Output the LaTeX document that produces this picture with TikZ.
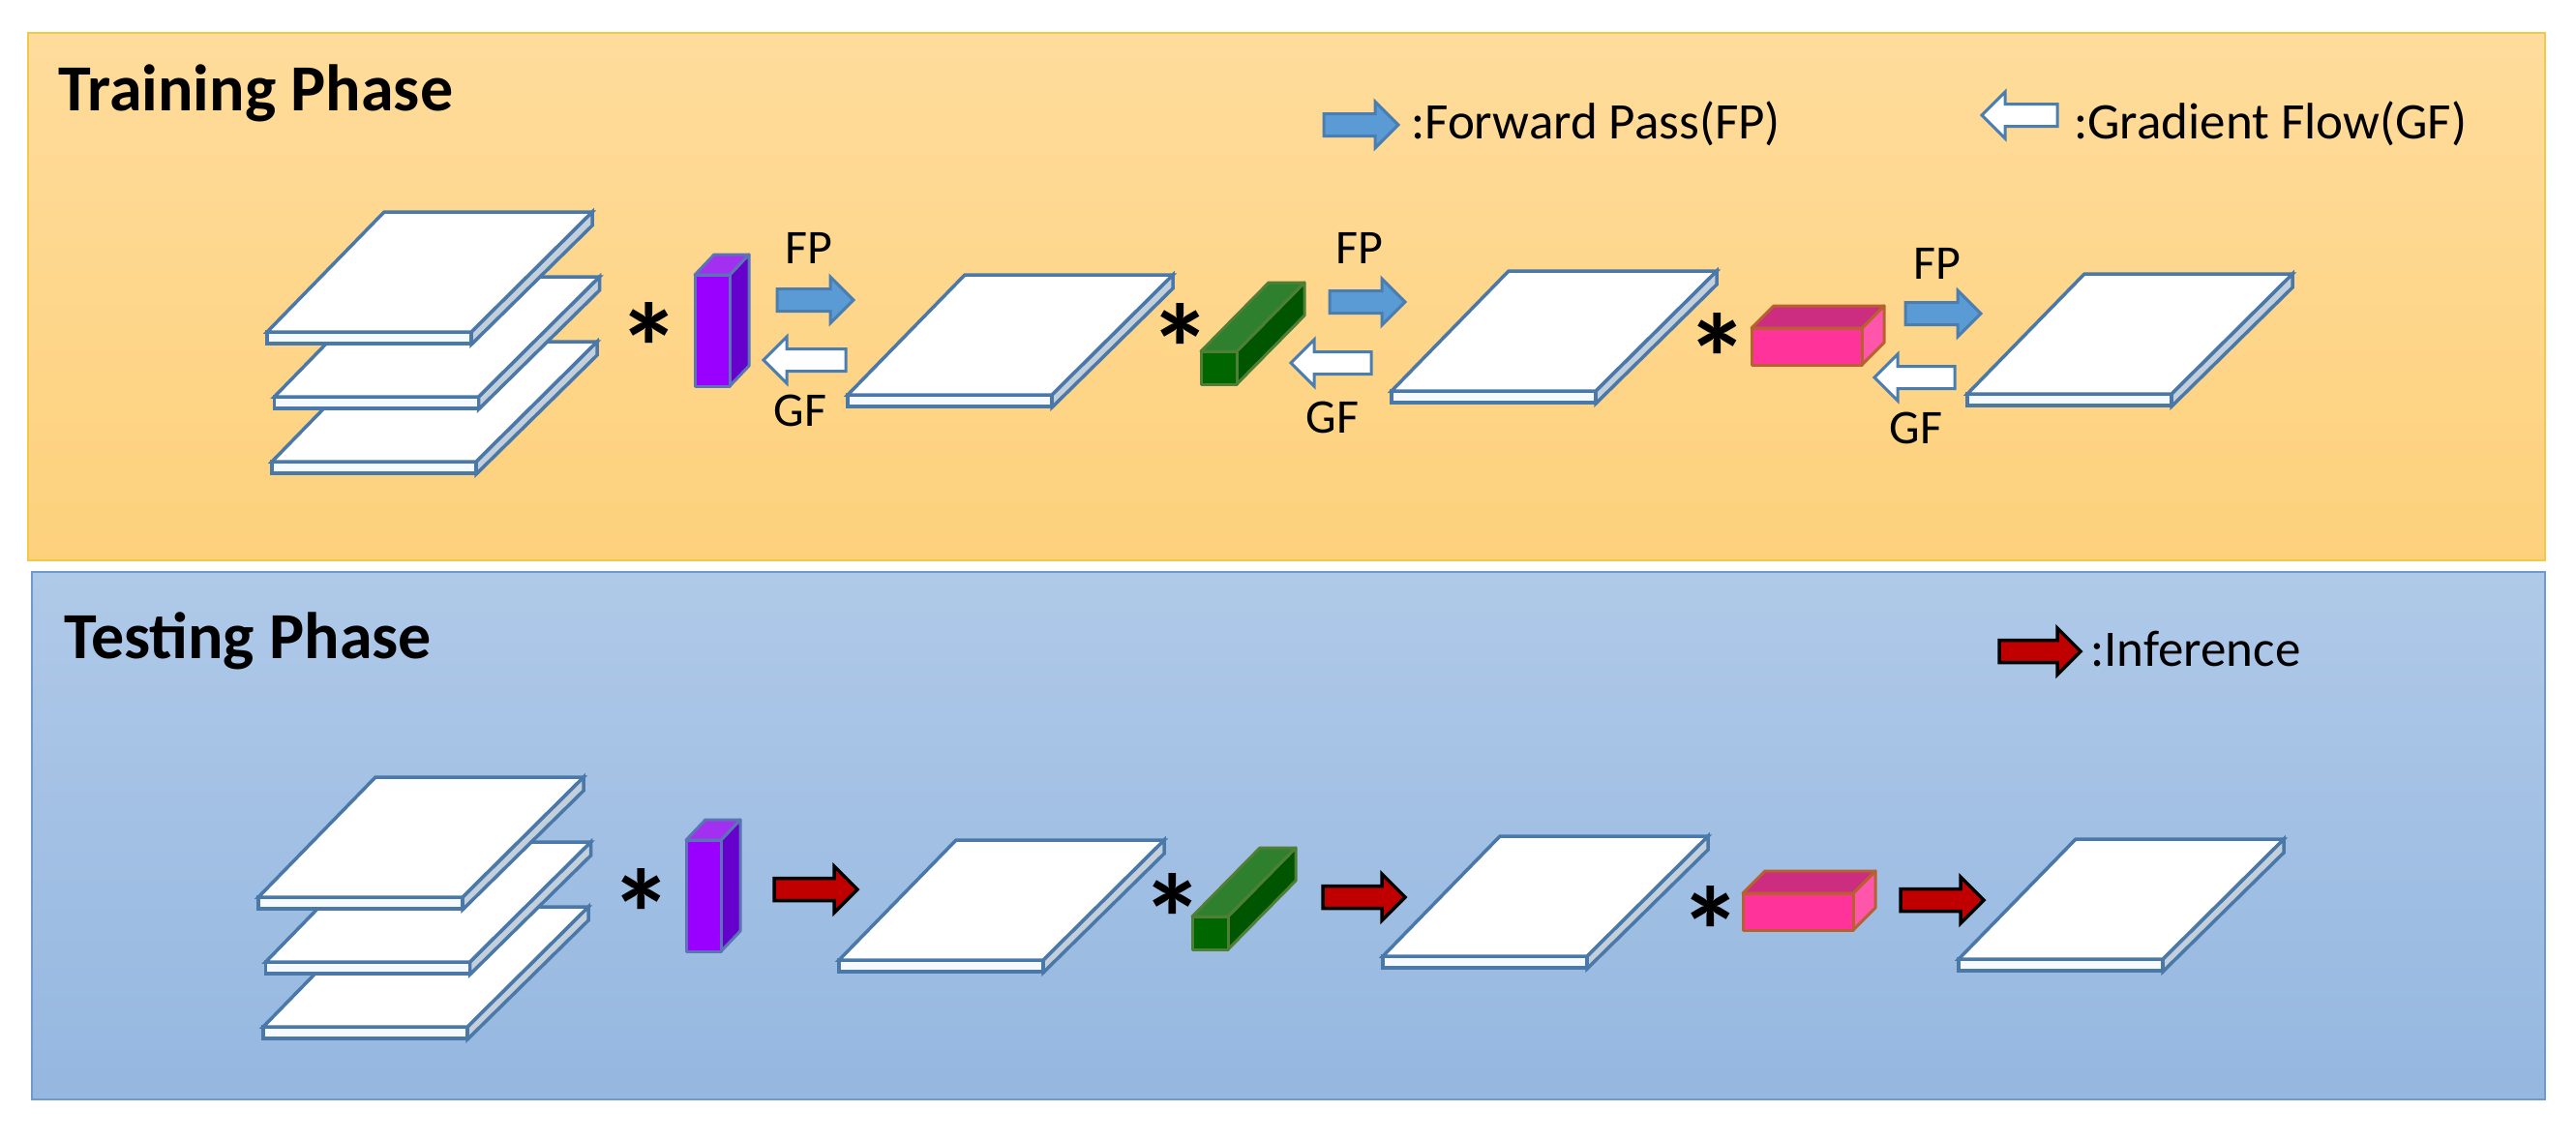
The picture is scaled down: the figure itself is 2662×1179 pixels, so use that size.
\documentclass[tikz,border=0pt]{standalone}
\usepackage{fontspec}
\setmainfont{Carlito}
\definecolor{plateblue}{HTML}{4A78A8}
\definecolor{platefront}{HTML}{F4FAFF}
\definecolor{plateside}{HTML}{C3CFDB}
\definecolor{fpedge}{HTML}{4A7EB0}
\definecolor{fpfill}{HTML}{5B9BD5}
\definecolor{gfedge}{HTML}{4A7EB0}
\definecolor{infred}{HTML}{C00000}
\definecolor{toptop}{HTML}{FFDC9C}
\definecolor{topbot}{HTML}{FDD17C}
\definecolor{topedge}{HTML}{F2C84A}
\definecolor{bottop}{HTML}{AFC9E8}
\definecolor{botbot}{HTML}{95B7E0}
\definecolor{botedge}{HTML}{6F9ACB}
\tikzset{x=1pt,y=-1pt,
  platestroke/.style={draw=plateblue,line width=3.5pt,line join=miter},
  boxstroke/.style={line width=3pt,line join=round},
  fparrow/.style={draw=fpedge,fill=fpfill,line width=3pt,line join=miter},
  gfarrow/.style={draw=gfedge,fill=white,line width=3pt,line join=miter},
  infarrow/.style={draw=black,fill=infred,line width=3.5pt,line join=miter},
  lbl/.style={anchor=base,inner sep=0pt,font=\fontsize{50}{54}\selectfont},
  legend/.style={anchor=base west,inner sep=0pt,font=\fontsize{53}{57}\selectfont},
  ttl/.style={anchor=base west,inner sep=0pt,font=\fontsize{68}{72}\selectfont\bfseries},
  ast/.style={inner sep=0pt,font=\fontsize{130}{130}\selectfont\bfseries},
}
\newcommand{\plate}[2]{%
  \begin{scope}[shift={(#1,#2)}]
    \filldraw[platestroke,fill=plateside] (211,0) -- (336,-124) -- (336,-110) -- (211,13) -- cycle;
    \filldraw[platestroke,fill=platefront] (0,0) rectangle (211,12);
    \filldraw[platestroke,fill=white] (0,0) -- (211,0) -- (336,-124) -- (121,-124) -- cycle;
  \end{scope}}
\newcommand{\kernelbox}[9]{%
  \filldraw[boxstroke,draw=#7,fill=#9] (#2,#3) -- (#2+#5,#3-#6) -- (#2+#5,#4-#6) -- (#2,#4) -- cycle;
  \filldraw[boxstroke,draw=#7,fill=#8] (#1,#3) -- (#2,#3) -- (#2+#5,#3-#6) -- (#1+#5,#3-#6) -- cycle;
  \filldraw[boxstroke,draw=#7,fill=kfront] (#1,#3) rectangle (#2,#4);}
\newcommand{\allplates}{%
  \plate{281}{477}
  \plate{283.5}{410}
  \plate{276}{343}
  \plate{876}{408}
  \plate{1438}{404}
  \plate{2033}{407}}
\definecolor{kPe}{HTML}{5B74B5}
\definecolor{kPt}{HTML}{A32FF0}
\definecolor{kPs}{HTML}{6600CC}
\definecolor{kGe}{HTML}{4E7F35}
\definecolor{kGt}{HTML}{2E7F2E}
\definecolor{kGs}{HTML}{005500}
\definecolor{kMe}{HTML}{B8602F}
\definecolor{kMt}{HTML}{CC2D80}
\definecolor{kMs}{HTML}{FF55AA}
\newcommand{\allkernels}{%
  \definecolor{kfront}{HTML}{9900FF}
  \kernelbox{718}{754}{284}{399}{20}{21}{kPe}{kPt}{kPs}
  \definecolor{kfront}{HTML}{006600}
  \kernelbox{1241}{1278}{363}{397}{70}{71}{kGe}{kGt}{kGs}
  \definecolor{kfront}{HTML}{FF3399}
  \kernelbox{1810}{1924}{339}{377}{23}{23}{kMe}{kMt}{kMs}}
\newcommand{\blockarrow}[4]{%
  \pgfmathsetmacro\hb{#3+((#2>#3)?1:-1)*24}
  \filldraw[#1] (#2,#4-11.5) -- (\hb,#4-11.5) -- (\hb,#4-24) -- (#3,#4) -- (\hb,#4+24) -- (\hb,#4+11.5) -- (#2,#4+11.5) -- cycle;}
\begin{document}
\begin{tikzpicture}
\useasboundingbox (0,0) rectangle (2662,1179);
\fill[white] (0,0) rectangle (2662,1179);
% panels
\shade[top color=toptop,bottom color=topbot] (29,34) rectangle (2630,579);
\draw[topedge,line width=2pt] (29,34) rectangle (2630,579);
\shade[top color=bottop,bottom color=botbot] (33,591) rectangle (2630,1136);
\draw[botedge,line width=2pt] (33,591) rectangle (2630,1136);
% titles
\node[ttl] (trainTitle) at (60,114) {Training Phase};
\node[ttl] (testTitle) at (66,680) {Testing Phase};
% training scene
\allplates
\allkernels
\node[ast] (astA) at (671,359) {*};
\node[ast] (astB) at (1220,360) {*};
\node[ast] (astC) at (1775,370) {*};
\blockarrow{fparrow}{803}{882}{310}
\blockarrow{gfarrow}{874}{789}{372}
\blockarrow{fparrow}{1374}{1452}{312}
\blockarrow{gfarrow}{1417}{1334}{375}
\blockarrow{fparrow}{1969}{2047}{324}
\blockarrow{gfarrow}{2020}{1937}{390}
\node[lbl] (fpA) at (836,272) {FP};
\node[lbl] (gfA) at (827,440) {GF};
\node[lbl] (fpB) at (1405,272) {FP};
\node[lbl] (gfB) at (1377,447) {GF};
\node[lbl] (fpC) at (2002,288) {FP};
\node[lbl] (gfC) at (1980,458) {GF};
% legends
\blockarrow{fparrow}{1368}{1445}{129}
\node[legend] (legFP) at (1458,143) {:Forward Pass(FP)};
\blockarrow{gfarrow}{2126}{2048}{119}
\node[legend] (legGF) at (2143,143) {:Gradient Flow(GF)};
\blockarrow{infarrow}{2066}{2150}{673}
\node[legend] (legInf) at (2160,688) {:Inference};
% testing scene
\begin{scope}[shift={(-9,584)}]
\allplates
\allkernels
\end{scope}
\node[ast] (astD) at (663,944) {*};
\node[ast] (astE) at (1212,949) {*};
\node[ast] (astF) at (1768,962) {*};
\blockarrow{infarrow}{800}{886}{919}
\blockarrow{infarrow}{1367}{1452}{927}
\blockarrow{infarrow}{1964}{2050}{930}
\end{tikzpicture}
\end{document}
